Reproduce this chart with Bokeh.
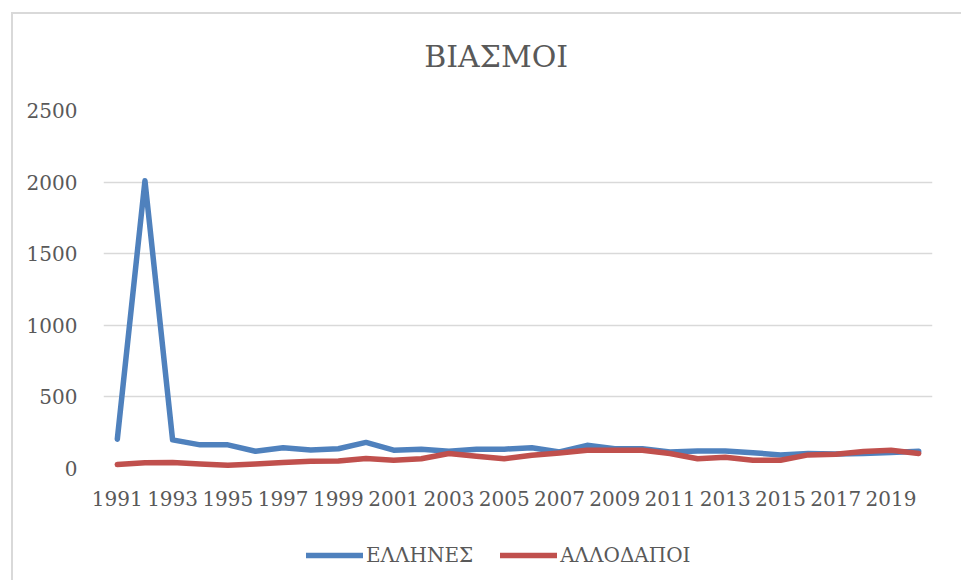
from bokeh.plotting import figure
from bokeh.models import Range1d, FixedTicker, Legend, LegendItem, Label
from bokeh.layouts import column
from bokeh.embed import file_html
from bokeh.resources import INLINE

years = list(range(1991, 2021))
greeks = [205, 2010, 200, 165, 165, 120, 145, 130, 138, 182, 128, 135, 120, 135, 135, 145, 115, 162, 138, 138, 115, 122, 122, 110, 95, 105, 102, 105, 112, 120]
foreigners = [28, 40, 42, 32, 22, 32, 42, 50, 52, 70, 58, 68, 105, 85, 68, 92, 108, 128, 128, 128, 105, 68, 78, 58, 58, 95, 100, 118, 128, 105]
tick_years = list(range(1991, 2021, 2))
y_ticks = [0, 500, 1000, 1500, 2000, 2500]
series_names = ["ΕΛΛΗΝΕΣ", "ΑΛΛΟΔΑΠΟΙ"]
colors = ["#4f81bd", "#c0504d"]
title_text = "ΒΙΑΣΜΟΙ"

FONT = "DejaVu Serif"
GREY = "#595959"
W = 950

# title strip
tf = figure(width=W, height=81, output_backend="svg", toolbar_location=None,
            x_range=Range1d(0, W), y_range=Range1d(0, 81), x_axis_type=None, y_axis_type=None,
            min_border=0)
tf.outline_line_color = None
tf.grid.visible = False
tf.add_layout(Label(x=450, y=39, text=title_text, text_align="center", text_baseline="middle",
                    text_font=FONT, text_font_size="30px", text_color=GREY))

# main chart
p = figure(width=W, height=423, output_backend="svg", toolbar_location=None,
           x_range=Range1d(1990.5, 2020.5), y_range=Range1d(0, 2500),
           min_border_left=90, min_border_right=31, min_border_top=15, min_border_bottom=50)

p.line(years, greeks, line_color=colors[0], line_width=5.5, line_join="round", line_cap="round")
p.line(years, foreigners, line_color=colors[1], line_width=5.5, line_join="round", line_cap="round")

p.outline_line_color = None
p.xgrid.grid_line_color = None
p.ygrid.grid_line_color = "#d9d9d9"
p.ygrid.grid_line_width = 1.5

p.yaxis.ticker = FixedTicker(ticks=y_ticks)
p.xaxis.ticker = FixedTicker(ticks=tick_years)
for ax in (p.xaxis, p.yaxis):
    ax.axis_line_color = None
    ax.major_tick_line_color = None
    ax.minor_tick_line_color = None
    ax.major_label_text_font = FONT
    ax.major_label_text_font_size = "20px"
    ax.major_label_text_color = GREY
p.yaxis.major_label_standoff = 20
p.xaxis.major_label_standoff = 16

# legend strip below the chart (series drawn outside its visible range, only keys show)
lg = figure(width=W, height=64, output_backend="svg", toolbar_location=None,
            x_range=Range1d(0, 1), y_range=Range1d(0, 1), x_axis_type=None, y_axis_type=None,
            min_border=0)
lg.outline_line_color = None
lg.grid.visible = False
k1 = lg.line(years, greeks, line_color=colors[0], line_width=5.5, line_cap="round")
k2 = lg.line(years, foreigners, line_color=colors[1], line_width=5.5, line_cap="round")
legend = Legend(items=[LegendItem(label=series_names[0], renderers=[k1]),
                       LegendItem(label=series_names[1], renderers=[k2])],
                orientation="horizontal", location=(203, 15),
                label_text_font=FONT, label_text_font_size="20px", label_text_color=GREY,
                glyph_width=57, glyph_height=20, label_standoff=3, spacing=27,
                border_line_color=None, background_fill_alpha=0, padding=6)
lg.add_layout(legend, "center")

layout = column(tf, p, lg, spacing=0)
layout.margin = (14, 0, 0, 13)
layout.styles = {"box-shadow": "-2px -2px 0 0 #d9d9d9"}

open("out.html", "w").write(file_html(layout, INLINE))
